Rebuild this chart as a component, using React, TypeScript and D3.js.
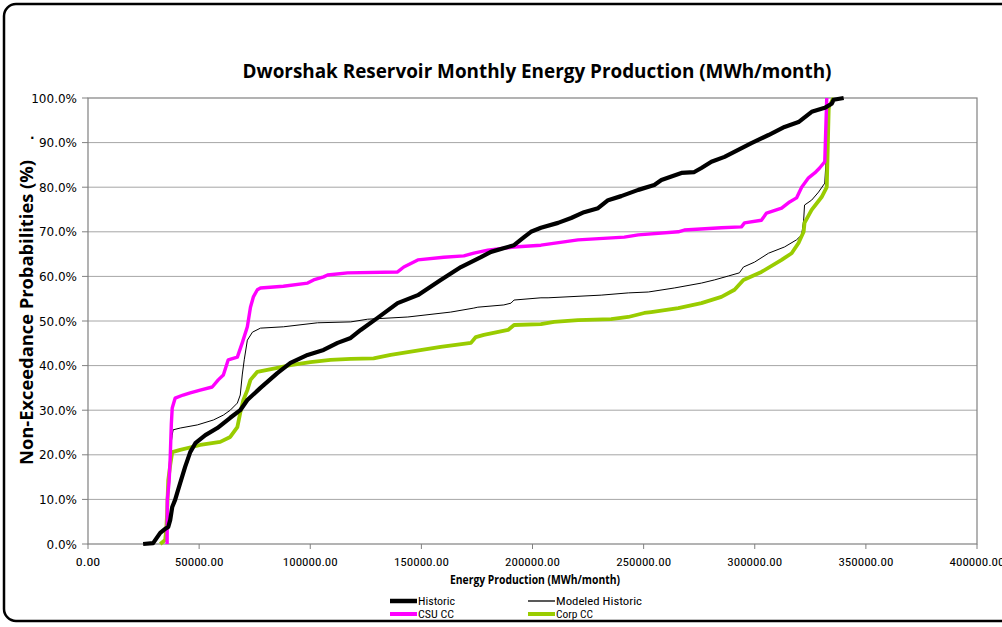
import React from "react";
import * as d3 from "d3";

// ---- data (x = MWh/month, y = non-exceedance %) ----
const historic: [number, number][] = [
  [24800, 0], [29300, 0.2], [32500, 2.5], [34700, 3.4], [36100, 3.8], [37000, 5.4], [37900, 8.3],
  [39200, 9.9], [40100, 11.4], [41500, 13.7], [43700, 17.3], [46000, 20.6], [48300, 22.6],
  [52800, 24.4], [58200, 26.0], [64000, 28.3], [68500, 30.0], [71700, 32.3], [77600, 35.0],
  [85200, 38.3], [91100, 40.6], [98800, 42.4], [106000, 43.5], [112300, 45.1], [118200, 46.2],
  [122700, 48.0], [130300, 50.7], [139300, 54.0], [148400, 55.8], [158700, 59.2], [167800, 62.1],
  [176800, 64.3], [181300, 65.5], [191700, 67.0], [196200, 68.8], [199300, 70.0], [203800, 70.9],
  [211500, 72.0], [217400, 73.1], [223200, 74.4], [229500, 75.3], [234000, 77.1], [239900, 78.0],
  [247600, 79.4], [254800, 80.5], [258000, 81.6], [267000, 83.2], [272800, 83.4], [276000, 84.3],
  [280500, 85.7], [286400, 86.8], [298500, 89.9], [306200, 91.7], [313400, 93.5], [319700, 94.6],
  [325600, 96.9], [331500, 97.8], [334600, 98.7], [335500, 99.6], [340000, 100],
];

const modeledHistoric: [number, number][] = [
  [35600, 0], [36100, 9.9], [37000, 21.1], [37900, 24.4], [38300, 25.6], [41500, 26.0],
  [49200, 26.7], [56400, 27.8], [60900, 28.9], [64000, 30.0], [67200, 31.6], [68500, 33.4],
  [69400, 37.9], [70300, 41.3], [71700, 45.7], [74000, 47.5], [77600, 48.4], [87900, 48.7],
  [103300, 49.6], [118200, 49.8], [125800, 50.4], [143900, 50.9], [163200, 52.0], [173600, 52.9],
  [175400, 53.1], [187100, 53.6], [190300, 54.0], [191700, 54.7], [203800, 55.2], [207000, 55.2],
  [230900, 55.8], [243100, 56.3], [252100, 56.5], [263800, 57.4], [276000, 58.5], [281800, 59.2],
  [288200, 60.1], [293100, 60.8], [294900, 62.1], [299900, 63.2], [306200, 65.2], [313400, 66.6],
  [318800, 68.2], [321100, 69.3], [322000, 72.6], [322400, 76.0], [325600, 77.1], [328700, 78.9],
  [331500, 80.9], [333300, 96.6], [334600, 100],
];

const csuCC: [number, number][] = [
  [35600, 0], [35700, 10], [36500, 14], [37000, 19.5], [37500, 27], [37900, 30.5], [39200, 32.7],
  [42800, 33.4], [46000, 33.9], [50500, 34.5], [55900, 35.2], [58600, 36.8], [60900, 37.9],
  [63100, 41.3], [67200, 41.9], [69400, 45.1], [71700, 48.7], [73100, 53.1], [74400, 55.4],
  [76200, 57.0], [77600, 57.4], [87900, 57.8], [98800, 58.5], [101500, 59.2], [106000, 59.9],
  [107800, 60.3], [116800, 60.8], [139300, 61.0], [142100, 62.1], [148400, 63.7], [160100, 64.3],
  [169100, 64.6], [173600, 65.2], [179900, 65.9], [191700, 66.6], [203800, 67.0], [220500, 68.2],
  [241300, 68.8], [247600, 69.3], [265600, 70.0], [268300, 70.4], [285000, 70.9], [294000, 71.1],
  [295400, 72.0], [303000, 72.6], [305300, 74.2], [312100, 75.3], [315700, 76.7], [318800, 77.6],
  [321100, 80.0], [324200, 82.1], [327000, 83.2], [329200, 84.3], [331500, 85.7], [332400, 100],
];

const corpCC: [number, number][] = [
  [32500, 0], [34700, 0.9], [35200, 3.1], [35600, 7.0], [36100, 14.3], [37000, 17.7], [37900, 20.6],
  [41500, 21.1], [50500, 22.2], [59500, 22.9], [64000, 24.0], [67200, 26.2], [68500, 29.4],
  [69900, 32.3], [71700, 34.5], [73100, 36.8], [76200, 38.6], [85200, 39.5], [91100, 40.1],
  [100100, 40.8], [109100, 41.3], [118200, 41.5], [128500, 41.6], [136200, 42.4], [143900, 43.0],
  [158700, 44.2], [172300, 45.1], [174500, 46.4], [178100, 46.9], [189000, 48.0], [191700, 49.1],
  [203800, 49.3], [209700, 49.8], [220500, 50.2], [235400, 50.4], [243100, 50.9], [250300, 51.8],
  [253400, 52.0], [265600, 52.9], [276000, 54.0], [285000, 55.4], [290900, 57.0], [294900, 59.2],
  [303000, 61.0], [312100, 63.7], [316600, 65.2], [319700, 67.5], [322000, 70.0], [322400, 72.0],
  [325600, 74.9], [330100, 77.8], [332400, 80.0], [333300, 98.0], [335500, 100],
];

const xTicks = [0, 50000, 100000, 150000, 200000, 250000, 300000, 350000, 400000];
const yTicks = [0, 10, 20, 30, 40, 50, 60, 70, 80, 90, 100];

const titleText = "Dworshak Reservoir Monthly Energy Production (MWh/month)";
const xTitle = "Energy Production (MWh/month)";
const yTitle = "Non-Exceedance Probabilities (%)";

const seriesNames = ["Historic", "Modeled Historic", "CSU CC", "Corp CC"];

export default function App() {
  const W = 1002, H = 627;
  const left = 88, right = 977, top = 98, bottom = 544;
  const x = d3.scaleLinear().domain([0, 400000]).range([left, right]);
  const y = d3.scaleLinear().domain([0, 100]).range([bottom, top]);
  const line = d3.line<[number, number]>().x((d) => x(d[0])).y((d) => y(d[1]));

  const narrow = "'Liberation Sans Narrow', 'Roboto Condensed', 'Liberation Sans', sans-serif";
  const calibriBold = "'Liberation Sans Narrow', 'Open Sans', 'Liberation Sans', sans-serif";

  return (
    <svg width={W} height={H} style={{ position: "absolute", left: 0, top: 0, background: "#fff" }}>
      <rect x={0} y={0} width={W} height={H} fill="#fff" />
      <rect x={4} y={4} width={1012} height={617} rx={12} ry={12} fill="#fff" stroke="#000" strokeWidth={2.5} />

      {/* gridlines */}
      {yTicks.filter((t) => t > 0 && t < 100).map((t) => (
        <line key={t} x1={left} x2={right} y1={y(t)} y2={y(t)} stroke="#a6a6a6" strokeWidth={1} />
      ))}
      {/* plot frame */}
      <rect x={left} y={top} width={right - left} height={bottom - top} fill="none" stroke="#808080" strokeWidth={1.2} />

      {/* y ticks & labels */}
      {yTicks.map((t) => (
        <g key={t}>
          <line x1={left - 6} x2={left} y1={y(t)} y2={y(t)} stroke="#808080" strokeWidth={1} />
          <text x={77} y={y(t) + 4.5} textAnchor="end" fontFamily="'DejaVu Sans', Verdana, sans-serif" fontSize={12} fill="#000">
            {t.toFixed(1) + "%"}
          </text>
        </g>
      ))}
      <text x={30} y={139} fontFamily="'DejaVu Sans', sans-serif" fontSize={12} fontWeight="bold">.</text>

      {/* x ticks & labels */}
      {xTicks.map((t) => {
        const lbl = t.toFixed(2);
        return (
          <g key={t}>
            <line x1={x(t)} x2={x(t)} y1={bottom} y2={bottom + 5} stroke="#808080" strokeWidth={1} />
            <text x={x(t)} y={566} textAnchor="middle" fontFamily={narrow} fontSize={11.5} fill="#000"
              textLength={lbl.length * 6.1} lengthAdjust="spacingAndGlyphs">
              {lbl}
            </text>
          </g>
        );
      })}

      {/* series */}
      <path d={line(modeledHistoric) || ""} fill="none" stroke="#000" strokeWidth={1} />
      <path d={line(corpCC) || ""} fill="none" stroke="#99cc00" strokeWidth={3.8} strokeLinejoin="round" />
      <path d={line(csuCC) || ""} fill="none" stroke="#ff00ff" strokeWidth={3.4} strokeLinejoin="round" />
      <path d={line(historic) || ""} fill="none" stroke="#000" strokeWidth={4.2} strokeLinejoin="round" />

      {/* titles */}
      <text x={537} y={78} textAnchor="middle" fontFamily={calibriBold} fontWeight="bold" fontSize={20}
        textLength={589} lengthAdjust="spacingAndGlyphs">{titleText}</text>
      <text x={535} y={584} textAnchor="middle" fontFamily={calibriBold} fontWeight="bold" fontSize={11.5}
        textLength={170} lengthAdjust="spacingAndGlyphs">{xTitle}</text>
      <text transform={`translate(33,${(160 + 465) / 2}) rotate(-90)`} textAnchor="middle" fontFamily={calibriBold}
        fontWeight="bold" fontSize={18} textLength={305} lengthAdjust="spacingAndGlyphs">{yTitle}</text>

      {/* legend */}
      <line x1={390} x2={417} y1={601} y2={601} stroke="#000" strokeWidth={4.5} />
      <text x={418} y={605} fontFamily={narrow} fontSize={11.5} textLength={37} lengthAdjust="spacingAndGlyphs">{seriesNames[0]}</text>
      <line x1={528} x2={555} y1={601} y2={601} stroke="#595959" strokeWidth={2} />
      <text x={556} y={605} fontFamily={narrow} fontSize={11.5} textLength={86} lengthAdjust="spacingAndGlyphs">{seriesNames[1]}</text>
      <line x1={390} x2={417} y1={614} y2={614} stroke="#ff00ff" strokeWidth={4} />
      <text x={418} y={618} fontFamily={narrow} fontSize={11.5} textLength={36} lengthAdjust="spacingAndGlyphs">{seriesNames[2]}</text>
      <line x1={528} x2={555} y1={614} y2={614} stroke="#99cc00" strokeWidth={4} />
      <text x={556} y={618} fontFamily={narrow} fontSize={11.5} textLength={37} lengthAdjust="spacingAndGlyphs">{seriesNames[3]}</text>
    </svg>
  );
}
